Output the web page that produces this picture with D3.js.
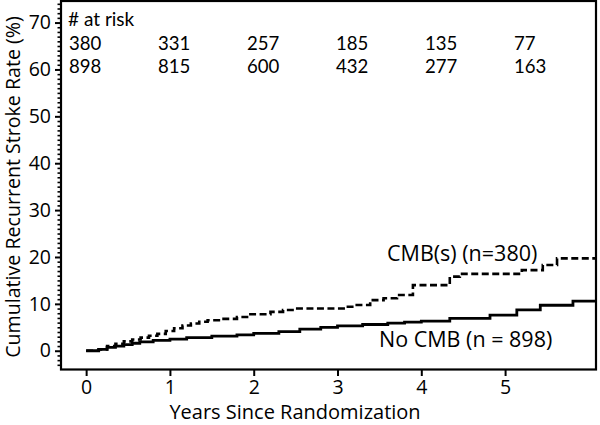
<!DOCTYPE html>
<html>
<head>
<meta charset="utf-8">
<script src="https://cdn.jsdelivr.net/npm/d3@7"></script>
<style>
  html, body { margin: 0; padding: 0; background: #fff; }
  svg { display: block; }
  text { font-family: "Open Sans", "Noto Sans", sans-serif; fill: #000; }
  .risk { font-family: Lato, "Open Sans", sans-serif; }
</style>
</head>
<body>
<svg id="chart" width="600" height="425"></svg>
<script>
// ---- Data ----
const yearTicks = [0, 1, 2, 3, 4, 5];
const rateTicks = [0, 10, 20, 30, 40, 50, 60, 70];

// Step points (years, cumulative %) for CMB(s) group
const cmbTimes  = [0, 0.15, 0.25, 0.35, 0.45, 0.55, 0.65, 0.75, 0.85, 0.95, 1.05, 1.15, 1.25, 1.35, 1.45, 1.6, 1.8, 1.96, 2.2, 2.35, 2.5, 3.1, 3.2, 3.39, 3.55, 3.71, 3.9, 4.34, 4.46, 5.2, 5.45, 5.62, 6.1];
const cmbValues = [0, 0.3, 1.0, 1.5, 2.0, 2.4, 2.8, 3.2, 3.6, 4.2, 4.8, 5.4, 5.8, 6.2, 6.5, 6.8, 7.2, 7.8, 8.3, 8.7, 9.0, 9.4, 9.75, 10.8, 11.2, 11.9, 14.0, 15.8, 16.4, 17.2, 18.3, 19.7, 19.7];

// Step points for No CMB group
const noCmbTimes  = [0, 0.15, 0.25, 0.35, 0.45, 0.55, 0.64, 0.8, 1.0, 1.2, 1.5, 1.8, 2.0, 2.3, 2.55, 2.8, 3.0, 3.3, 3.6, 3.8, 4.0, 4.34, 4.82, 5.14, 5.42, 5.81, 6.1];
const noCmbValues = [0, 0.3, 0.7, 1.0, 1.3, 1.6, 1.9, 2.2, 2.5, 2.8, 3.1, 3.4, 3.7, 4.1, 4.6, 5.0, 5.3, 5.6, 5.9, 6.1, 6.3, 6.9, 7.6, 8.7, 9.7, 10.6, 10.6];

const seriesNames = ["CMB(s) (n=380)", "No CMB (n = 898)"];
const atRiskTitle = "# at risk";
const atRiskCmb   = [380, 331, 257, 185, 135, 77];
const atRiskNoCmb = [898, 815, 600, 432, 277, 163];

const xTitle = "Years Since Randomization";
const yTitle = "Cumulative Recurrent Stroke Rate (%)";

// ---- Layout ----
const svg = d3.select("#chart");
const pLeft = 61, pRight = 596, pTop = 1, pBottom = 369.5;

const x = d3.scaleLinear().domain([-0.3, 6.085]).range([pLeft, pRight]);
const y = d3.scaleLinear().domain([-4.0, 74.6]).range([pBottom, pTop]);

// Frame
svg.append("rect")
  .attr("x", pLeft).attr("y", pTop)
  .attr("width", pRight - pLeft).attr("height", pBottom - pTop)
  .attr("fill", "none").attr("stroke", "#000").attr("stroke-width", 2.2);

// Y axis minor ticks
const minorY = d3.range(-3, 75, 1).filter(v => v % 10 !== 0);
svg.append("g")
  .attr("transform", `translate(${pLeft},0)`)
  .call(d3.axisLeft(y).tickValues(minorY).tickSize(3.5).tickFormat(""))
  .call(g => g.select(".domain").remove())
  .call(g => g.selectAll("line").attr("stroke-width", 1.6));

// Y axis major ticks
svg.append("g")
  .attr("transform", `translate(${pLeft},0)`)
  .call(d3.axisLeft(y).tickValues(rateTicks).tickSize(6).tickPadding(4).tickFormat(d3.format("d")))
  .call(g => g.select(".domain").remove())
  .call(g => g.selectAll("line").attr("stroke-width", 2))
  .call(g => g.selectAll("text").attr("font-size", 19.5).attr("font-family", "Open Sans").attr("fill", "#000"));

// X axis
svg.append("g")
  .attr("transform", `translate(0,${pBottom})`)
  .call(d3.axisBottom(x).tickValues(yearTicks).tickSize(6.5).tickPadding(4).tickFormat(d3.format("d")))
  .call(g => g.select(".domain").remove())
  .call(g => g.selectAll("line").attr("stroke-width", 2))
  .call(g => g.selectAll("text").attr("font-size", 19.5).attr("font-family", "Open Sans").attr("fill", "#000"));

// Axis titles
svg.append("text")
  .attr("x", 295).attr("y", 419)
  .attr("text-anchor", "middle")
  .attr("font-size", 20)
  .text(xTitle);

svg.append("text")
  .attr("transform", `translate(20,187) rotate(-90)`)
  .attr("text-anchor", "middle")
  .attr("font-size", 19.6)
  .text(yTitle);

// Curves
const line = d3.line().curve(d3.curveStepAfter).x(d => x(d[0])).y(d => y(d[1]));
const cmbData = cmbTimes.map((t, i) => [t, cmbValues[i]]);
const noCmbData = noCmbTimes.map((t, i) => [t, noCmbValues[i]]);

svg.append("clipPath").attr("id", "clip")
  .append("rect").attr("x", pLeft).attr("y", pTop).attr("width", pRight - pLeft).attr("height", pBottom - pTop);

svg.append("path")
  .datum(noCmbData)
  .attr("clip-path", "url(#clip)")
  .attr("d", line)
  .attr("fill", "none").attr("stroke", "#000").attr("stroke-width", 2.8);

svg.append("path")
  .datum(cmbData)
  .attr("clip-path", "url(#clip)")
  .attr("d", line)
  .attr("fill", "none").attr("stroke", "#000").attr("stroke-width", 2.6)
  .attr("stroke-dasharray", "7,3.5");

// Series labels
svg.append("text").attr("x", 387).attr("y", 261).attr("font-size", 21.5).text(seriesNames[0]);
svg.append("text").attr("x", 379).attr("y", 347).attr("font-size", 21.5).text(seriesNames[1]);

// At-risk table
const col = d3.scaleLinear().domain([0, 5]).range([69, 514]);
svg.append("text").attr("class", "risk").attr("x", 68).attr("y", 26).attr("font-size", 19).text(atRiskTitle);
svg.append("g").selectAll("text").data(atRiskCmb).join("text")
  .attr("class", "risk")
  .attr("x", (d, i) => col(i)).attr("y", 49.5).attr("font-size", 18.6).text(d => d);
svg.append("g").selectAll("text").data(atRiskNoCmb).join("text")
  .attr("class", "risk")
  .attr("x", (d, i) => col(i)).attr("y", 72.5).attr("font-size", 18.6).text(d => d);
</script>
</body>
</html>
